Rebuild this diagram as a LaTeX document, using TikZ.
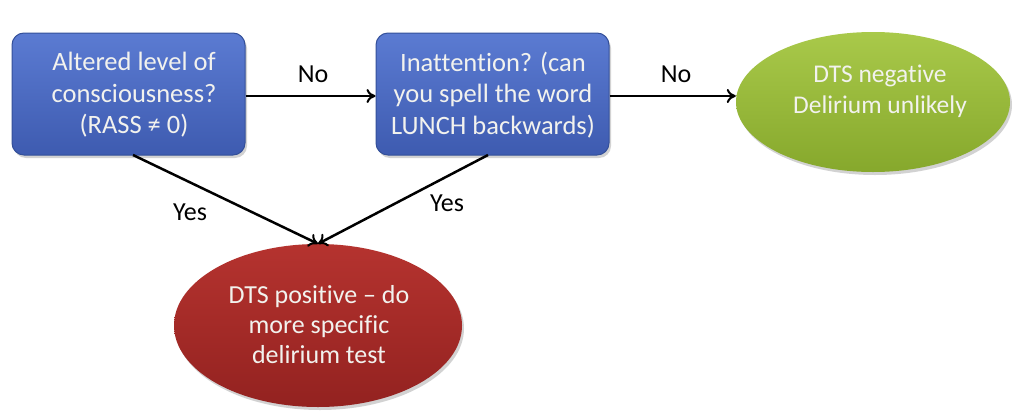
\documentclass[tikz,border=0pt]{standalone}
\usepackage{fontspec}
\setmainfont{Carlito}[Ligatures=NoCommon]
\usetikzlibrary{arrows.meta,shapes.geometric,shadows}
\definecolor{boxtop}{HTML}{5B7BD2}
\definecolor{boxbot}{HTML}{3E5BB0}
\definecolor{boxedge}{HTML}{34509A}
\definecolor{grntop}{HTML}{A9C94A}
\definecolor{grnbot}{HTML}{86A82C}
\definecolor{redtop}{HTML}{B5332F}
\definecolor{redbot}{HTML}{932220}
\definecolor{txt}{HTML}{F2F2EE}
\tikzset{
  qbox/.style={draw=boxedge, line width=1pt, rounded corners=12pt, top color=boxtop, bottom color=boxbot,
    minimum width=233pt, minimum height=122pt,
    drop shadow={shadow xshift=2pt, shadow yshift=-3pt, opacity=0.35}},
  oval/.style={ellipse, draw=none,
    drop shadow={shadow xshift=2pt, shadow yshift=-3pt, opacity=0.35}},
  ttext/.style={align=center, text=txt},
  conn/.style={line width=2.5pt, -{To[length=9pt,width=14pt,line width=2pt]}},
  lbl/.style={font=\fontsize{26}{30}\selectfont, text=black}
}
\begin{document}
\begin{tikzpicture}[x=1pt,y=-1pt]
\useasboundingbox (0,0) rectangle (1018,410);
\fill[white] (0,0) rectangle (1018,410);
\node[qbox] (b1) at (128.5,94) {};
\node[qbox] (b2) at (492.5,94) {};
\node[oval, top color=grntop, bottom color=grnbot, minimum width=274pt, minimum height=140pt] (neg) at (873,102) {};
\node[oval, top color=redtop, bottom color=redbot, minimum width=288pt, minimum height=163pt] (pos) at (318,325.5) {};
\node[ttext, font=\fontsize{26.5}{31.5}\selectfont] (t1) at (134,95) {Altered level of\\consciousness?\\(RASS ≠ 0)};
\node[ttext, font=\fontsize{26.5}{31.5}\selectfont] (t2) at (493,95) {Inattention? (can\\you spell the word\\LUNCH backwards)};
\node[ttext, font=\fontsize{25.5}{31}\selectfont] (t3) at (880,91) {DTS negative\\Delirium unlikely};
\node[ttext, font=\fontsize{26}{30}\selectfont] (t4) at (319,325) {DTS positive – do\\more specific\\delirium test};
\coordinate (b1s) at (133,155);
\coordinate (b2s) at (488,155);
\draw[conn] (b1.east |- 0,96) -- (b2.west |- 0,96);
\draw[conn] (b2.east |- 0,96) -- (neg.west |- 0,96);
\draw[conn] (b1s) -- (pos.north);
\draw[conn] (b2s) -- (pos.north);
\node[lbl] (n1) at (313,74) {No};
\node[lbl] (n2) at (676,74) {No};
\node[lbl] (y1) at (190,212) {Yes};
\node[lbl] (y2) at (447,203) {Yes};
\end{tikzpicture}
\end{document}
